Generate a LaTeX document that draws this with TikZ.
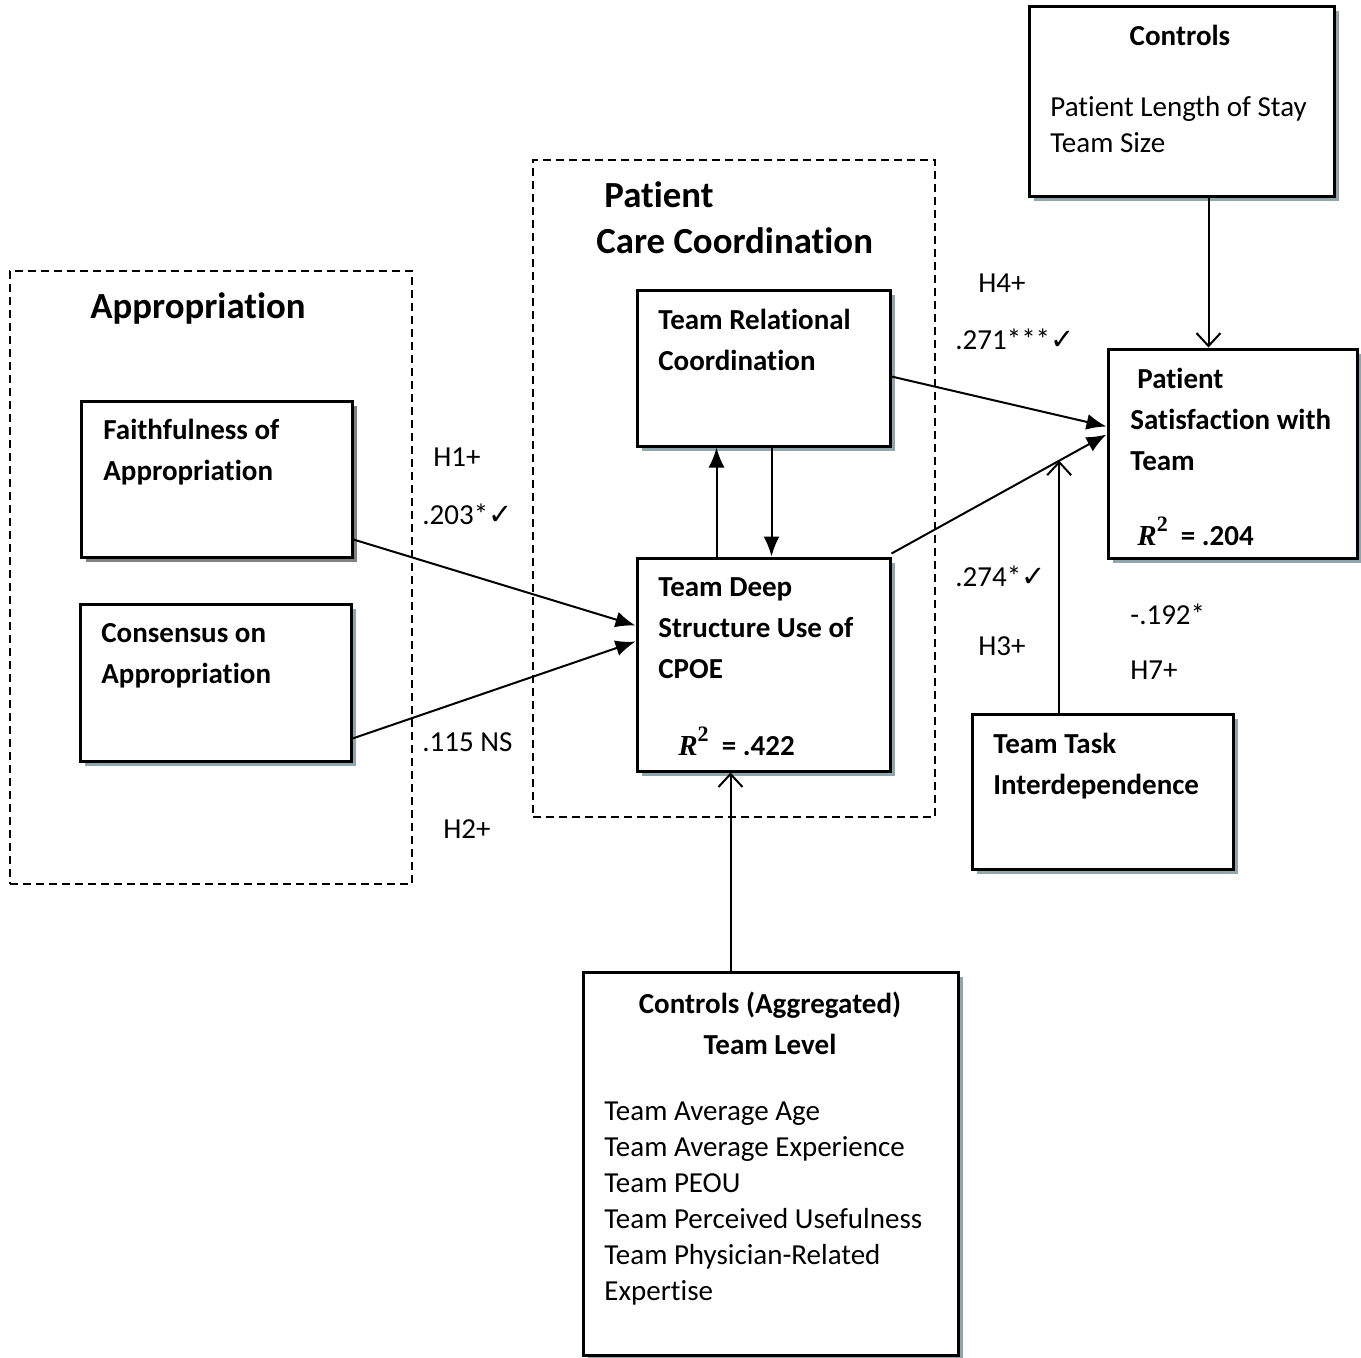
\documentclass[tikz,border=0pt]{standalone}
\usepackage{fontspec}
\setmainfont[Ligatures=NoCommon]{Carlito}
\newfontfamily\checkfont{DejaVu Sans}
\newfontfamily\rfont{Liberation Serif}
\usetikzlibrary{arrows.meta,fit,shadows,calc}
\definecolor{shadowteal}{HTML}{8FA7AC}
\newcommand{\chk}{{\checkfont ✓}}
\newcommand{\rsquare}{{\rfont\bfseries\itshape R}{\rfont\bfseries\raisebox{0.45em}{\fontsize{11pt}{11pt}\selectfont 2}}}

\begin{document}
\begin{tikzpicture}[x=0.5pt,y=-0.5pt,
  box/.style={draw,line width=1.5pt,fill=white,inner sep=0pt},
  tealshadow/.style={drop shadow={shadow xshift=2.5pt,shadow yshift=-2.5pt,fill=shadowteal,opacity=1}},
  grayshadow/.style={drop shadow={shadow xshift=2.5pt,shadow yshift=-2.5pt,fill=gray,opacity=1}},
  grp/.style={draw,dash pattern=on 4pt off 2.5pt,line width=0.75pt,inner sep=0pt},
  txt/.style={anchor=north west,inner sep=0pt,align=left,font=\fontsize{14.5pt}{20.5pt}\selectfont\bfseries},
  lst/.style={anchor=north west,inner sep=0pt,align=left,font=\fontsize{14.5pt}{18pt}\selectfont},
  ttl/.style={anchor=north west,inner sep=0pt,align=left,font=\fontsize{18.4pt}{23pt}\selectfont\bfseries},
  lbl/.style={anchor=north west,inner sep=0pt,font=\fontsize{14.5pt}{18pt}\selectfont},
  arr/.style={line width=1pt,-{Latex[length=10pt,width=8pt]}},
  ctl/.style={line width=1pt,-{Straight Barb[length=6.5pt,width=12pt]}}]
\useasboundingbox (0,0) rectangle (1361,1357);

% groups
\node[grp,fit={(10,271)(412,884)}] (appr) {};
\node[grp,fit={(533,160)(935,817)}] (pcc) {};
\node[ttl] at (90,292) {Appropriation};
\node[ttl] at (596,181) {\hspace*{4pt}Patient\\Care Coordination};

% constructs
\node[box,grayshadow,fit={(81,401)(352,557)}] (faith) {};
\node[box,tealshadow,fit={(80,604)(351,761)}] (cons) {};
\node[box,tealshadow,fit={(637,290)(890,446)}] (rel) {};
\node[box,tealshadow,fit={(637,558)(890,771)}] (deep) {};
\node[box,tealshadow,fit={(1108,349)(1357,558)}] (sat) {};
\node[box,tealshadow,fit={(1029,6)(1334,196)}] (ctrl) {};
\node[box,tealshadow,fit={(972,714)(1233,869)}] (task) {};
\node[box,tealshadow,fit={(583,972)(958,1355)}] (ctrlteam) {};

\node[txt] at (103,419) {Faithfulness of\\Appropriation};
\node[txt] at (101,623) {Consensus on\\Appropriation};
\node[txt] at (658,309) {Team Relational\\Coordination};
\node[txt] at (658,577) {Team Deep\\Structure Use of\\CPOE};
\node[txt] at (678,727) {\rsquare\ \ = .422};
\node[txt] at (1130,368) {\hspace*{3.5pt}Patient\\Satisfaction with\\Team};
\node[txt] at (1137,517) {\rsquare\ \ = .204};
\node[txt,anchor=north] at (1180,25) {Controls};
\node[lst] at (1050,96) {Patient Length of Stay\\Team Size};
\node[txt] at (993,733) {Team Task\\Interdependence};
\node[txt,anchor=north,align=center] at (770,992) {Controls (Aggregated)\\Team Level};
\node[lst] at (604,1101) {Team Average Age\\Team Average Experience\\Team PEOU\\Team Perceived Usefulness\\Team Physician-Related\\Expertise};

% paths
\draw[arr] ([yshift=9.5pt]faith.south east) -- ([yshift=-34.5pt]deep.north west);
\draw[arr] ([yshift=12pt]cons.south east) -- ([yshift=-42.5pt]deep.north west);
\draw[arr] ([xshift=40.5pt]deep.north west) -- ([xshift=40.5pt]rel.south west);
\draw[arr] ([xshift=68pt]rel.south west) -- ([xshift=68pt]deep.north west);
\draw[arr] ([yshift=-44pt]rel.north east) -- ([yshift=-39.5pt]sat.north west);
\draw[arr] ([yshift=1.5pt]deep.north east) coordinate (d1) -- ([yshift=-43.5pt]sat.north west) coordinate (s1);
\coordinate (h7) at ($(d1)!0.78!(s1)$);
\draw[ctl] (h7 |- task.north) -- (h7);
\draw[ctl] ([xshift=90.5pt]ctrl.south west) coordinate (c1) -- (c1 |- sat.north);
\draw[ctl] ([xshift=74.5pt]ctrlteam.north west) coordinate (c2) -- (c2 |- deep.south);

% coefficients
\node[lbl] at (433,447) {H1+};
\node[lbl] at (422,503) {.203*\chk};
\node[lbl] at (422,732) {.115 NS};
\node[lbl] at (443,819) {H2+};
\node[lbl] at (978,273) {H4+};
\node[lbl] at (955,328) {.271***\chk};
\node[lbl] at (955,565) {.274*\chk};
\node[lbl] at (978,636) {H3+};
\node[lbl] at (1130,603) {-.192*};
\node[lbl] at (1130,660) {H7+};
\end{tikzpicture}
\end{document}
